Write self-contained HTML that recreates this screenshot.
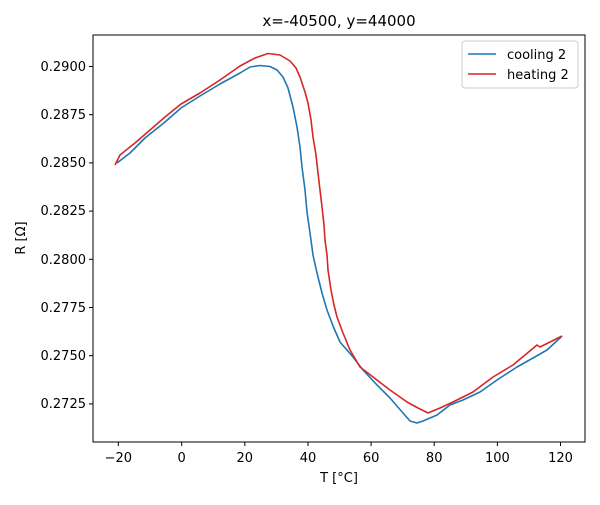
<!DOCTYPE html>
<html><head><style>body{margin:0;background:#fff}</style></head><body>
<svg width="600" height="500" xmlns="http://www.w3.org/2000/svg" font-family="DejaVu Sans, Liberation Sans, sans-serif" font-size="13">
<rect width="600" height="500" fill="#fff"/>
<text x="339" y="26" text-anchor="middle" font-size="15">x=-40500, y=44000</text>
<g stroke="#000" stroke-width="1">
<line x1="118.3" y1="442" x2="118.3" y2="446"/><line x1="181.7" y1="442" x2="181.7" y2="446"/><line x1="244.8" y1="442" x2="244.8" y2="446"/><line x1="308" y1="442" x2="308" y2="446"/><line x1="371.1" y1="442" x2="371.1" y2="446"/><line x1="434.2" y1="442" x2="434.2" y2="446"/><line x1="497.4" y1="442" x2="497.4" y2="446"/><line x1="560.5" y1="442" x2="560.5" y2="446"/>
<line x1="89" y1="66.5" x2="93" y2="66.5"/><line x1="89" y1="114.7" x2="93" y2="114.7"/><line x1="89" y1="162.9" x2="93" y2="162.9"/><line x1="89" y1="211.1" x2="93" y2="211.1"/><line x1="89" y1="259.3" x2="93" y2="259.3"/><line x1="89" y1="307.5" x2="93" y2="307.5"/><line x1="89" y1="355.7" x2="93" y2="355.7"/><line x1="89" y1="403.9" x2="93" y2="403.9"/>
</g>
<g text-anchor="middle">
<text x="118.3" y="462">−20</text><text x="181.7" y="462">0</text><text x="244.8" y="462">20</text><text x="308" y="462">40</text><text x="371.1" y="462">60</text><text x="434.2" y="462">80</text><text x="497.4" y="462">100</text><text x="560.5" y="462">120</text>
</g>
<g text-anchor="end">
<text x="86" y="71">0.2900</text><text x="86" y="119">0.2875</text><text x="86" y="167">0.2850</text><text x="86" y="215">0.2825</text><text x="86" y="264">0.2800</text><text x="86" y="312">0.2775</text><text x="86" y="360">0.2750</text><text x="86" y="408">0.2725</text>
</g>
<text x="339" y="482" text-anchor="middle">T [°C]</text>
<text transform="translate(25,238) rotate(-90)" text-anchor="middle">R [Ω]</text>
<polyline fill="none" stroke="#1f77b4" stroke-width="1.6" stroke-linejoin="round" points="117,163 130,153 145,138 165,122 181,108 200,96 220,84 240,73 250,67 260,65.5 270,66.5 277,70 283,77 288,88 293,107 297,127 300,147 302,167 305,190 307,212 310,233 313,255 317,273 322,293 327,310 333,326 340,342 353,357 363,370 377,385 390,398 403,413 410,421 417,423 423,421 437,415 450,405 463,400 480,392 497,380 517,367 533,358 547,350 560,338 562,336"/>
<polyline fill="none" stroke="#d62728" stroke-width="1.6" stroke-linejoin="round" points="115,165 120,155 135,143 150,130 165,117 181,104 200,93 220,80 240,66 255,58 268,53.5 280,55 290,61 296,68 300,77 305,92 308,103 311,120 313,137 316,155 318,173 320,190 322,207 324,225 325,240 327,255 328,270 331,290 334,305 337,317 343,333 350,350 360,367 373,377 390,390 407,402 418,408 428,413 440,408 453,402 473,392 493,377 513,365 525,355 537,345 540,347 550,342 560,337 562,336"/>
<rect x="93" y="35" width="492" height="407" fill="none" stroke="#000" stroke-width="1"/>
<rect x="462" y="41" width="116" height="47" fill="#fff" stroke="#ccc" rx="3"/>
<line x1="468" y1="54" x2="496" y2="54" stroke="#1f77b4" stroke-width="1.6"/>
<line x1="468" y1="74" x2="496" y2="74" stroke="#d62728" stroke-width="1.6"/>
<text x="507" y="59">cooling 2</text><text x="507" y="79">heating 2</text>
</svg>
</body></html>
